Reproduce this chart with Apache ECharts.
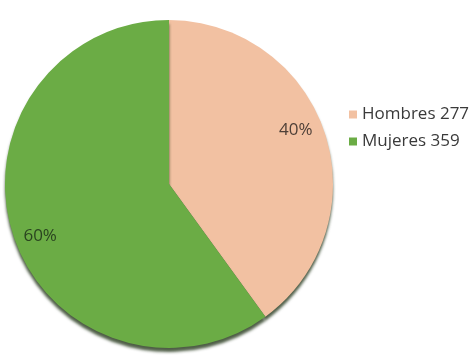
<!DOCTYPE html>
<html>
<head>
<meta charset="utf-8">
<script src="https://cdn.jsdelivr.net/npm/echarts@6/dist/echarts.min.js"></script>
<style>html,body{margin:0;padding:0;background:#fff}#c{width:474px;height:360px}</style>
</head>
<body>
<div id="c"></div>
<script>
var categories = ['Hombres', 'Mujeres'];
var counts = [277, 359];
var percents = [40, 60];
var colors = ['#F2C1A2', '#6BAC45'];

var chart = echarts.init(document.getElementById('c'), null, {renderer: 'canvas'});
var labelStyles = [
  {offset: [46, -28], color: '#4f4038'},
  {offset: [-48, 26], color: '#2a4420'}
];
var data = categories.map(function (c, i) {
  return {
    name: c + ' ' + counts[i],
    value: percents[i],
    itemStyle: {color: colors[i]},
    label: labelStyles[i]
  };
});
chart.setOption({
  animation: false,
  backgroundColor: '#ffffff',
  legend: {
    orient: 'vertical',
    left: 344,
    top: 101,
    icon: 'rect',
    itemWidth: 8,
    itemHeight: 8,
    itemGap: 10,
    textStyle: {fontFamily: 'Open Sans', fontSize: 17, color: '#3a3a3a'},
    data: data.map(function (d) { return d.name; })
  },
  series: [{
    type: 'pie',
    center: [169, 184],
    radius: 164,
    startAngle: 90,
    clockwise: true,
    label: {
      show: true,
      position: 'inside',
      fontFamily: 'Open Sans',
      fontSize: 17,
      formatter: function (p) { return p.value + '%'; }
    },
    labelLine: {show: false},
    itemStyle: {
      shadowColor: 'rgba(20,40,10,0.75)',
      shadowBlur: 3,
      shadowOffsetY: 4
    },
    emphasis: {disabled: true},
    data: data
  }]
});
</script>
</body>
</html>
